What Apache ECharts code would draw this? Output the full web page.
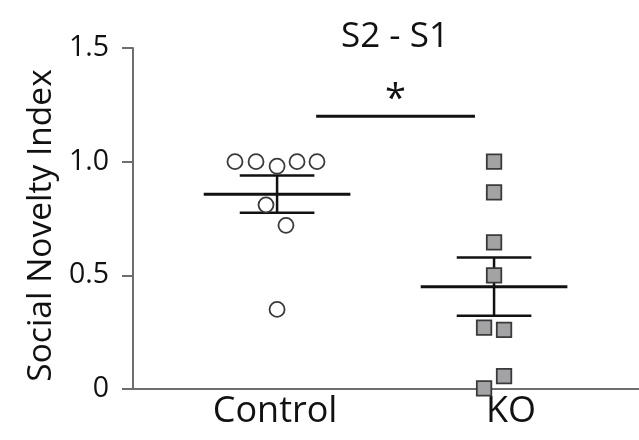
<!DOCTYPE html>
<html>
<head>
<meta charset="utf-8">
<script src="https://cdn.jsdelivr.net/npm/echarts@6/dist/echarts.min.js"></script>
<style>
  html, body { margin: 0; padding: 0; background: #fff; }
  #chart { width: 639px; height: 440px; }
</style>
</head>
<body>
<div id="chart"></div>
<script>
// ---- data ----
const groups = ['Control', 'KO'];
const groupPos = [1, 2];
const controlValues = [1.0, 1.0, 0.98, 1.0, 1.0, 0.81, 0.72, 0.35];
const controlJitter = [-0.194, -0.097, 0, 0.092, 0.184, -0.051, 0.041, 0];
const koValues = [1.0, 0.865, 0.645, 0.5, 0.27, 0.26, 0.057, 0.003];
const koJitter = [0, 0, 0, 0, -0.046, 0.046, 0.046, -0.046];
const means = [0.857, 0.45];
const sems = [0.082, 0.128];
const yTicks = [0, 0.5, 1.0, 1.5];
const yTickLabels = ['0', '0.5', '1.0', '1.5'];
const sigFrom = 1.18, sigTo = 1.912, sigLevel = 1.2, sigMark = '*';

// ---- styling constants ----
const FONT = 'Open Sans';
const MEAN_HW = 0.338;
const CAP_HW = 0.172;

const chart = echarts.init(document.getElementById('chart'), null, { renderer: 'canvas' });

const controlData = controlValues.map((v, i) => [groupPos[0] + controlJitter[i], v]);
const koData = koValues.map((v, i) => [groupPos[1] + koJitter[i], v]);
const errData = groupPos.map((x, i) => [x, means[i], sems[i]]);

const option = {
  animation: false,
  backgroundColor: '#fff',
  title: {
    text: 'S2 - S1',
    left: 390,
    top: 15,
    textAlign: 'center',
    textStyle: { fontFamily: FONT, fontSize: 35, fontWeight: 'normal', color: '#111' }
  },
  grid: { left: 133, right: 0, top: 48, bottom: 51, containLabel: false },
  xAxis: {
    type: 'value',
    min: 0.336,
    max: 2.668,
    splitLine: { show: false },
    axisLine: { show: true, lineStyle: { color: '#6e6e6e', width: 2 } },
    axisTick: { show: false },
    axisLabel: {
      customValues: groupPos,
      margin: 5,
      color: '#111',
      fontFamily: FONT,
      formatter: function (v) {
        const i = groupPos.indexOf(v);
        if (i < 0) return '';
        return i === 0 ? '{c|' + groups[0] + '}' : '{k|' + groups[1] + '}';
      },
      rich: {
        c: { fontFamily: FONT, fontSize: 36, color: '#111', padding: [0, 4, 0, 0] },
        k: { fontFamily: FONT, fontSize: 36, color: '#111', padding: [0, 0, 0, 34] }
      }
    }
  },
  yAxis: {
    type: 'value',
    min: 0,
    max: 1.5,
    interval: 0.5,
    name: 'Social Novelty Index',
    nameLocation: 'middle',
    nameGap: 74,
    nameTextStyle: { fontFamily: FONT, fontSize: 33.5, color: '#111', padding: [0, 14, 0, 0] },
    splitLine: { show: false },
    axisLine: { show: true, lineStyle: { color: '#6e6e6e', width: 2 } },
    axisTick: { show: true, length: 11, lineStyle: { color: '#6e6e6e', width: 2 } },
    axisLabel: {
      margin: 24,
      fontFamily: FONT,
      fontSize: 28.5,
      color: '#111',
      formatter: function (v) {
        const i = yTicks.findIndex(t => Math.abs(t - v) < 1e-9);
        return i >= 0 ? yTickLabels[i] : '';
      }
    }
  },
  series: [
    {
      type: 'custom',
      name: 'meanSem',
      z: 2,
      data: errData,
      renderItem: function (params, api) {
        const x = api.value(0), m = api.value(1), s = api.value(2);
        const p = (xx, yy) => api.coord([xx, yy]);
        const segs = [
          [p(x - MEAN_HW, m), p(x + MEAN_HW, m), 3],
          [p(x, m - s), p(x, m + s), 2.5],
          [p(x - CAP_HW, m + s), p(x + CAP_HW, m + s), 2.5],
          [p(x - CAP_HW, m - s), p(x + CAP_HW, m - s), 2.5]
        ];
        return {
          type: 'group',
          children: segs.map(([a, b, w]) => ({
            type: 'line',
            shape: { x1: a[0], y1: a[1], x2: b[0], y2: b[1] },
            style: { stroke: '#111', lineWidth: w }
          }))
        };
      }
    },
    {
      type: 'scatter',
      name: 'Control',
      z: 3,
      symbol: 'circle',
      symbolSize: 15,
      itemStyle: { color: '#ffffff', borderColor: '#3a3a3a', borderWidth: 1.8, opacity: 1 },
      data: controlData
    },
    {
      type: 'scatter',
      name: 'KO',
      z: 3,
      symbol: 'rect',
      symbolSize: 14.5,
      itemStyle: { color: '#a3a3a6', borderColor: '#3a3a3a', borderWidth: 1.8, opacity: 1 },
      data: koData
    },
    {
      type: 'line',
      name: 'sig',
      z: 2,
      symbol: 'none',
      silent: true,
      lineStyle: { color: '#111', width: 3 },
      data: [[sigFrom, sigLevel], [sigTo, sigLevel]],
      markPoint: {
        symbol: 'circle',
        symbolSize: 0,
        data: [{ coord: [(sigFrom + sigTo) / 2, sigLevel] }],
        label: {
          show: true,
          formatter: sigMark,
          position: 'top',
          distance: -3,
          fontFamily: FONT,
          fontSize: 38,
          color: '#111'
        }
      }
    }
  ]
};

chart.setOption(option);
</script>
</body>
</html>
